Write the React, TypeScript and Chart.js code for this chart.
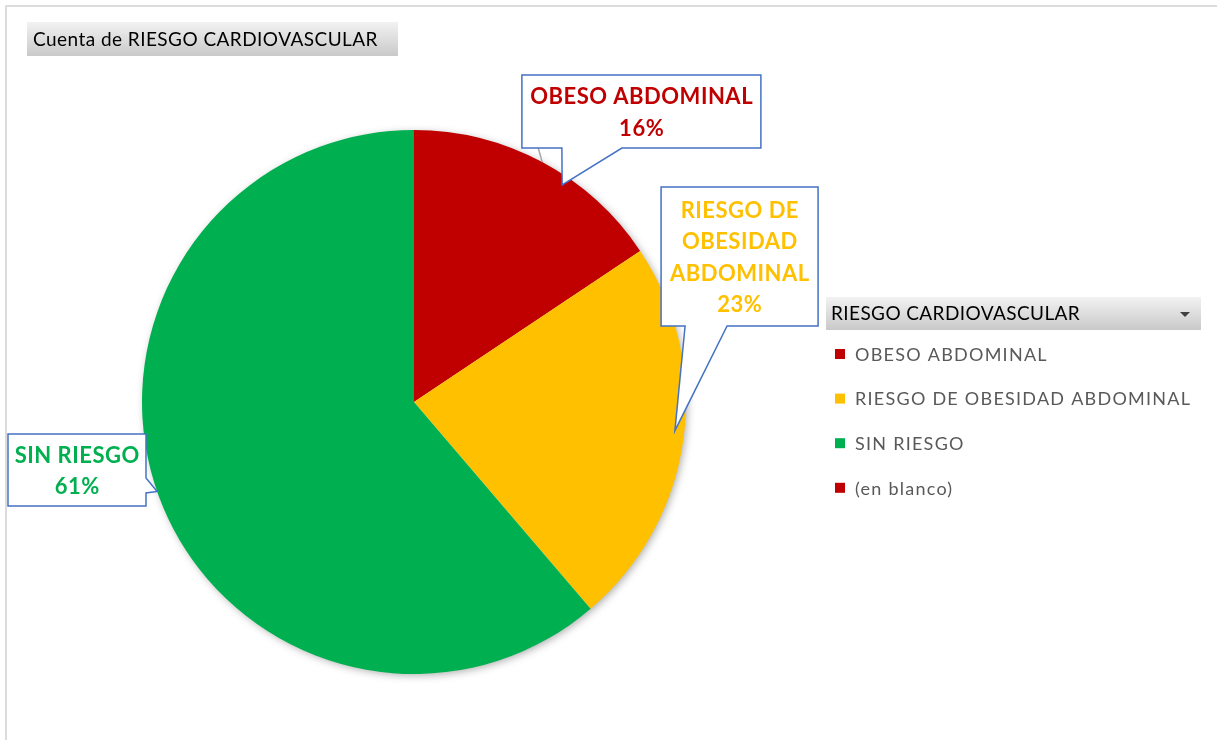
import { useEffect, useRef } from "react";
import { Chart, registerables } from "chart.js";

Chart.register(...registerables);

// ---- data ----
const categories = ["OBESO ABDOMINAL", "RIESGO DE OBESIDAD ABDOMINAL", "SIN RIESGO", "(en blanco)"];
const counts = [25, 37, 98, 0];
const sliceColors = ["#C00000", "#FFC000", "#00B050", "#C00000"];
const calloutLines = [["OBESO ABDOMINAL"], ["RIESGO DE", "OBESIDAD", "ABDOMINAL"], ["SIN RIESGO"], []];
const chartTitle = "Cuenta de RIESGO CARDIOVASCULAR";
const legendTitle = "RIESGO CARDIOVASCULAR";

// ---- callout layout (relative to pie centre, in radius units) ----
type Callout = {
  cx: number; cy: number; w: number; h: number;
  side: "bottom" | "right"; b0: number; b1: number;
  tipOffsetDeg: number; tipR: number; leader: boolean;
};
const calloutLayout: (Callout | null)[] = [
  { cx: 0.836, cy: -1.068, w: 239, h: 73, side: "bottom", b0: 40, b1: 100, tipOffsetDeg: 6.2, tipR: 0.966, leader: true },
  { cx: 1.197, cy: -0.535, w: 157, h: 139, side: "bottom", b0: 24, b1: 66, tipOffsetDeg: -1.6, tipR: 0.965, leader: false },
  { cx: -1.239, cy: 0.25, w: 138, h: 72, side: "right", b0: 44, b1: 59, tipOffsetDeg: 1.05, tipR: 1.0, leader: false },
  null,
];

const FONT = "Lato, 'Open Sans', sans-serif";

function grayButton(ctx: CanvasRenderingContext2D, x: number, y: number, w: number, h: number) {
  const g = ctx.createLinearGradient(0, y, 0, y + h);
  g.addColorStop(0, "#f2f2f2");
  g.addColorStop(1, "#c9c9c9");
  ctx.fillStyle = g;
  ctx.fillRect(x, y, w, h);
}

function setSpacing(ctx: CanvasRenderingContext2D, px: number) {
  (ctx as any).letterSpacing = `${px}px`;
}

const decorPlugin = {
  id: "decor",
  beforeDatasetsDraw(chart: any) {
    const ctx: CanvasRenderingContext2D = chart.ctx;
    const arc = chart.getDatasetMeta(0).data[0];
    if (!arc) return;
    ctx.save();
    ctx.shadowColor = "rgba(0,0,0,0.35)";
    ctx.shadowBlur = 9;
    ctx.shadowOffsetX = 2;
    ctx.shadowOffsetY = 2;
    ctx.fillStyle = "#ffffff";
    ctx.beginPath();
    ctx.arc(arc.x, arc.y, arc.outerRadius - 1, 0, Math.PI * 2);
    ctx.fill();
    ctx.restore();
  },
  afterDraw(chart: any) {
    const ctx: CanvasRenderingContext2D = chart.ctx;
    const W = chart.width;
    ctx.save();

    // frame
    ctx.strokeStyle = "#dcdcdc";
    ctx.lineWidth = 2;
    ctx.strokeRect(6, 6, W + 40, chart.height + 40);

    // title button
    grayButton(ctx, 27, 22, 371, 34);
    ctx.fillStyle = "#000000";
    ctx.font = `19px ${FONT}`;
    setSpacing(ctx, 0.45);
    ctx.textBaseline = "middle";
    ctx.textAlign = "left";
    ctx.fillText(chartTitle, 33, 40);

    // legend
    grayButton(ctx, 826, 297, 375, 33);
    ctx.fillStyle = "#000000";
    ctx.font = `19px ${FONT}`;
    setSpacing(ctx, 0.4);
    ctx.fillText(legendTitle, 831, 314);
    setSpacing(ctx, 0);
    ctx.fillStyle = "#404040";
    ctx.beginPath();
    ctx.moveTo(1180, 312);
    ctx.lineTo(1190, 312);
    ctx.lineTo(1185, 317);
    ctx.closePath();
    ctx.fill();

    ctx.font = `18px ${FONT}`;
    setSpacing(ctx, 1.25);
    categories.forEach((c, i) => {
      const y = 354 + i * 44.6;
      ctx.fillStyle = sliceColors[i];
      ctx.fillRect(835, y - 5, 10, 10);
      ctx.fillStyle = "#595959";
      ctx.fillText(c, 855, y + 1);
    });
    setSpacing(ctx, 0);

    // callouts
    const meta = chart.getDatasetMeta(0);
    const total = counts.reduce((a, b) => a + b, 0);
    calloutLayout.forEach((L, i) => {
      if (!L) return;
      const a = meta.data[i];
      const R = a.outerRadius;
      const cx = a.x + L.cx * R;
      const cy = a.y + L.cy * R;
      const left = cx - L.w / 2;
      const top = cy - L.h / 2;
      const right = left + L.w;
      const bottom = top + L.h;
      const mid = (a.startAngle + a.endAngle) / 2;
      const ang = mid + (L.tipOffsetDeg * Math.PI) / 180;
      const tx = a.x + Math.cos(ang) * R * L.tipR;
      const ty = a.y + Math.sin(ang) * R * L.tipR;

      if (L.leader) {
        ctx.strokeStyle = "#a6a6a6";
        ctx.lineWidth = 1.5;
        ctx.beginPath();
        ctx.moveTo(a.x + Math.cos(mid) * R, a.y + Math.sin(mid) * R);
        ctx.lineTo(a.x + Math.cos(mid) * R - 4, bottom);
        ctx.stroke();
      }

      ctx.beginPath();
      ctx.moveTo(left, top);
      ctx.lineTo(right, top);
      if (L.side === "right") {
        ctx.lineTo(right, top + L.b0);
        ctx.lineTo(tx, ty);
        ctx.lineTo(right, top + L.b1);
        ctx.lineTo(right, bottom);
        ctx.lineTo(left, bottom);
      } else {
        ctx.lineTo(right, bottom);
        ctx.lineTo(left + L.b1, bottom);
        ctx.lineTo(tx, ty);
        ctx.lineTo(left + L.b0, bottom);
        ctx.lineTo(left, bottom);
      }
      ctx.closePath();
      ctx.fillStyle = "#ffffff";
      ctx.fill();
      ctx.strokeStyle = "#4472C4";
      ctx.lineWidth = 1.5;
      ctx.stroke();

      const pct = Math.round((counts[i] / total) * 100) + "%";
      const lines = [...calloutLines[i], pct];
      const lh = 31.5;
      ctx.fillStyle = sliceColors[i];
      ctx.font = `bold 22px ${FONT}`;
      setSpacing(ctx, 0.5);
      ctx.textAlign = "center";
      ctx.textBaseline = "middle";
      const y0 = cy - ((lines.length - 1) * lh) / 2 + 1.5;
      lines.forEach((t, k) => ctx.fillText(t, cx + 0.25, y0 + k * lh));
      setSpacing(ctx, 0);
      ctx.textAlign = "left";
    });

    ctx.restore();
  },
};

export default function App() {
  const ref = useRef<HTMLCanvasElement | null>(null);
  useEffect(() => {
    if (!ref.current) return;
    const chart = new Chart(ref.current, {
      type: "pie",
      data: {
        labels: categories,
        datasets: [
          {
            data: counts,
            backgroundColor: sliceColors,
            borderWidth: 0,
          },
        ],
      },
      options: {
        animation: false,
        responsive: false,
        layout: { padding: { left: 142, right: 531, top: 130, bottom: 66 } },
        plugins: {
          legend: { display: false },
          tooltip: { enabled: false },
          title: { display: false },
        },
      },
      plugins: [decorPlugin],
    });
    return () => chart.destroy();
  }, []);
  return (
    <div style={{ position: "absolute", left: 0, top: 0, width: 1217, height: 740, background: "#fff" }}>
      <canvas ref={ref} width={1217} height={740} style={{ display: "block" }} />
    </div>
  );
}
